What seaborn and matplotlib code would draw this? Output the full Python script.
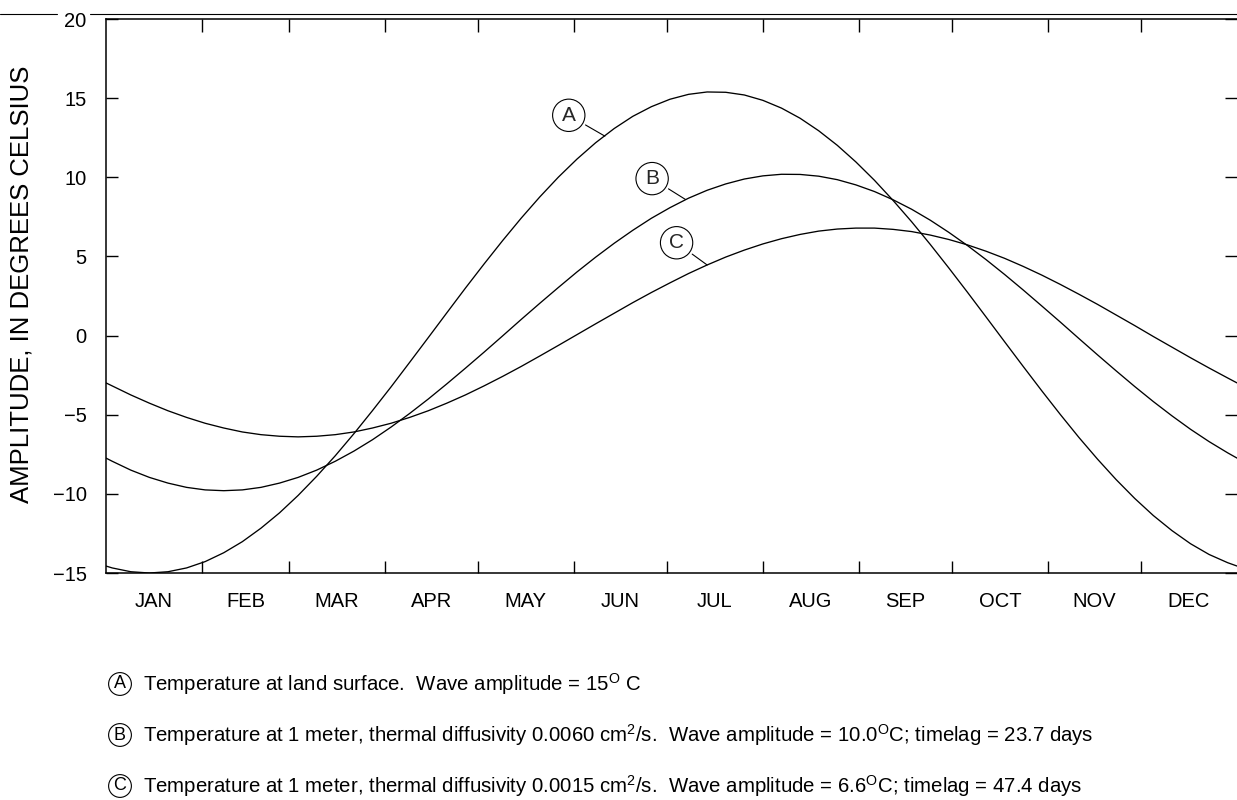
import matplotlib
matplotlib.use("Agg")
import matplotlib.pyplot as plt
from matplotlib.lines import Line2D
import seaborn as sns
import pandas as pd

days = [0, 2, 8, 14, 20, 26, 32, 38, 44, 50, 56, 62, 68, 74, 80, 86, 92, 98,
        104, 110, 116, 122, 128, 134, 140, 146, 152, 158, 164, 170, 176, 182,
        188, 194, 200, 206, 212, 218, 224, 230, 236, 242, 248, 254, 260, 266,
        272, 278, 284, 290, 296, 302, 308, 314, 320, 326, 332, 338, 344, 350,
        356, 362, 365]

# curve A: land surface
temp_a = [-14.56, -14.68, -14.92, -15.00, -14.92, -14.68, -14.28, -13.72,
          -13.02, -12.17, -11.20, -10.10, -8.89, -7.59, -6.20, -4.74, -3.24,
          -1.69, -0.13, 1.44, 3.00, 4.52, 6.00, 7.42, 8.76, 10.01, 11.15,
          12.18, 13.08, 13.85, 14.46, 14.93, 15.24, 15.39, 15.37, 15.20,
          14.86, 14.37, 13.73, 12.94, 12.02, 10.97, 9.81, 8.54, 7.19, 5.76,
          4.27, 2.74, 1.18, -0.39, -1.95, -3.49, -4.99, -6.44, -7.81, -9.10,
          -10.29, -11.37, -12.32, -13.15, -13.83, -14.35, -14.56]

# curve B: 1 m, diffusivity 0.0060
temp_b = [-7.74, -7.94, -8.50, -8.96, -9.32, -9.59, -9.75, -9.80, -9.75,
          -9.59, -9.32, -8.96, -8.50, -7.94, -7.30, -6.58, -5.78, -4.92,
          -4.01, -3.05, -2.06, -1.05, -0.02, 1.02, 2.04, 3.04, 4.02, 4.95,
          5.83, 6.65, 7.41, 8.08, 8.68, 9.18, 9.58, 9.89, 10.09, 10.19, 10.18,
          10.07, 9.85, 9.52, 9.10, 8.58, 7.98, 7.29, 6.52, 5.69, 4.80, 3.86,
          2.88, 1.87, 0.85, -0.19, -1.22, -2.23, -3.22, -4.17, -5.07, -5.92,
          -6.70, -7.41, -7.74]

# curve C: 1 m, diffusivity 0.0015
temp_c = [-2.99, -3.18, -3.75, -4.27, -4.75, -5.17, -5.54, -5.84, -6.09,
          -6.26, -6.36, -6.40, -6.36, -6.26, -6.09, -5.84, -5.54, -5.17,
          -4.75, -4.27, -3.75, -3.18, -2.58, -1.95, -1.29, -0.62, 0.06, 0.74,
          1.41, 2.08, 2.72, 3.33, 3.92, 4.46, 4.96, 5.40, 5.79, 6.12, 6.39,
          6.60, 6.73, 6.79, 6.79, 6.71, 6.57, 6.35, 6.07, 5.73, 5.33, 4.88,
          4.37, 3.82, 3.23, 2.61, 1.97, 1.30, 0.63, -0.06, -0.73, -1.40, -2.05,
          -2.68, -2.99]

months = ["JAN", "FEB", "MAR", "APR", "MAY", "JUN",
          "JUL", "AUG", "SEP", "OCT", "NOV", "DEC"]
month_edges = [0, 31, 59, 90, 120, 151, 181, 212, 243, 273, 304, 334, 365]
y_ticks = [-15, -10, -5, 0, 5, 10, 15, 20]

notes = [
    ("A", "Temperature at land surface.  Wave amplitude = 15$^\\mathrm{O}$ C"),
    ("B", "Temperature at 1 meter, thermal diffusivity 0.0060 cm$^\\mathrm{2}$/s.  "
          "Wave amplitude = 10.0$^\\mathrm{O}$C; timelag = 23.7 days"),
    ("C", "Temperature at 1 meter, thermal diffusivity 0.0015 cm$^\\mathrm{2}$/s.  "
          "Wave amplitude = 6.6$^\\mathrm{O}$C; timelag = 47.4 days"),
]

df = pd.DataFrame({"day": days, "A": temp_a, "B": temp_b, "C": temp_c})

sns.set_theme(style="white")
plt.rcParams["font.family"] = ["Liberation Sans", "DejaVu Sans"]
plt.rcParams["mathtext.fontset"] = "custom"
plt.rcParams["mathtext.rm"] = "Liberation Sans"

W, H = 1237, 800
fig = plt.figure(figsize=(W / 100, H / 100), dpi=100)
fig.patch.set_facecolor("white")

# axes box in pixels: left 106, right 1237, top 19, bottom 573
ax = fig.add_axes([106 / W, 1 - 573 / H, (1237 - 106) / W, (573 - 19) / H])
ax.set_facecolor("white")

for col in ["A", "B", "C"]:
    sns.lineplot(data=df, x="day", y=col, color="black", linewidth=0.95,
                 ax=ax, sort=False, estimator=None)

ax.set_xlim(0, 365)
ax.set_ylim(-15, 20)
ax.set_xlabel("")
ax.set_ylabel("")

# month boundaries as ticks, month names centred between them
ax.set_xticks(month_edges[1:-1])
ax.set_xticks([(a + b) / 2 for a, b in zip(month_edges[:-1], month_edges[1:])],
              minor=True)
ax.set_xticklabels(months, minor=True)
ax.tick_params(axis="x", which="major", direction="in", length=9, width=1,
               color="black", top=True, bottom=True, labelbottom=False)
ax.tick_params(axis="x", which="minor", length=0, pad=14, labelsize=14.5,
               labelcolor="black")

ax.set_yticks(y_ticks)
ax.set_yticklabels([str(v).replace("-", "\u2212") for v in y_ticks])
ax.tick_params(axis="y", direction="in", length=8.5, width=1, color="black",
               left=True, right=True, pad=14, labelsize=14.5, labelcolor="black")

for side in ["left", "top", "bottom"]:
    ax.spines[side].set_color("black")
    ax.spines[side].set_linewidth(1.1)
ax.spines["right"].set_visible(False)

# circled curve labels with leader lines
callouts = [("A", 161, 12.6, (-26, 15)), ("B", 187, 8.6, (-24, 15)),
            ("C", 194, 4.46, (-22, 16))]
for letter, xd, yd, off in callouts:
    ax.annotate(letter, xy=(xd, yd), xytext=off, textcoords="offset points",
                ha="center", va="center", fontsize=15,
                bbox=dict(boxstyle="circle,pad=0.32", fc="white", ec="black",
                          lw=0.8),
                arrowprops=dict(arrowstyle="-", color="black", lw=0.8,
                                shrinkA=2, shrinkB=0))

fig.text(22 / W, 1 - 284 / H, "AMPLITUDE, IN DEGREES CELSIUS", rotation=90,
         ha="center", va="center", fontsize=18.5, color="black")

# explanation lines under the chart
for (letter, text), ypx in zip(notes, [684, 735, 786]):
    fig.text(120 / W, 1 - ypx / H, letter, ha="center", va="center",
             fontsize=13, color="black",
             bbox=dict(boxstyle="circle,pad=0.16", fc="white", ec="black",
                       lw=0.8))
    fig.text(143 / W, 1 - ypx / H, text, ha="left", va="center",
             fontsize=14.7, color="black")

# stray rule along the top edge of the sheet
yline = 1 - 14 / H
fig.add_artist(Line2D([0, 57 / W], [yline, yline], transform=fig.transFigure,
                      color="black", lw=0.8))
fig.add_artist(Line2D([90 / W, 1], [yline, yline], transform=fig.transFigure,
                      color="black", lw=0.8))

fig.savefig("out.png", dpi=100, facecolor="white")
